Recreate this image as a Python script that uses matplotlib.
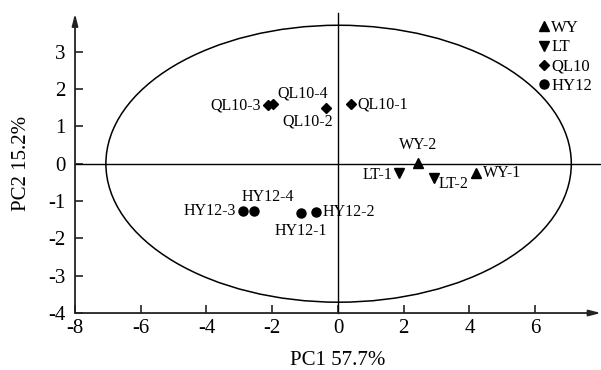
import matplotlib.pyplot as plt
from matplotlib.patches import Ellipse

plt.rcParams['font.family'] = ['Liberation Serif', 'DejaVu Serif']
plt.rcParams['axes.unicode_minus'] = False

# ---- data ----
groups = ['WY', 'LT', 'QL10', 'HY12']
markers = ['^', 'v', 'D', 'o']
sizes = [7, 7, 5.5, 6.5]

wy_names = ['WY-1', 'WY-2']
wy_pc1 = [4.19, 2.44]
wy_pc2 = [-0.24, 0.02]

lt_names = ['LT-1', 'LT-2']
lt_pc1 = [1.86, 2.93]
lt_pc2 = [-0.24, -0.37]

ql_names = ['QL10-1', 'QL10-2', 'QL10-3', 'QL10-4']
ql_pc1 = [0.39, -0.37, -2.14, -1.99]
ql_pc2 = [1.59, 1.50, 1.57, 1.59]

hy_names = ['HY12-1', 'HY12-2', 'HY12-3', 'HY12-4']
hy_pc1 = [-1.12, -0.67, -2.88, -2.55]
hy_pc2 = [-1.33, -1.30, -1.26, -1.26]

xticks = [-8, -6, -4, -2, 0, 2, 4, 6]
yticks = [-4, -3, -2, -1, 0, 1, 2, 3]

# label offsets in points (dx, dy, ha, va)
offsets = {
    'WY-1': (5, 0, 'left', 'center'),
    'WY-2': (0, 7, 'center', 'bottom'),
    'LT-1': (-5, -2, 'right', 'center'),
    'LT-2': (3, -5, 'left', 'center'),
    'QL10-1': (5, 0, 'left', 'center'),
    'QL10-2': (-13, -10, 'center', 'center'),
    'QL10-3': (-5, 0, 'right', 'center'),
    'QL10-4': (22, 8, 'center', 'center'),
    'HY12-1': (0, -13, 'center', 'center'),
    'HY12-2': (5, 0, 'left', 'center'),
    'HY12-3': (-5, 0, 'right', 'center'),
    'HY12-4': (10, 10, 'center', 'center'),
}

fig = plt.figure(figsize=(6.01, 3.70), dpi=100)
ax = fig.add_axes([0.1248, 0.154, 0.875, 0.807])
ax.set_xlim(-8, 8)
ax.set_ylim(-4, 4)

for s in ax.spines.values():
    s.set_visible(False)

# axes with arrows
arrow = dict(arrowstyle='-|>,head_length=0.7,head_width=0.18', color='#222222', lw=1.3, shrinkA=0, shrinkB=0)
ax.annotate('', xy=(8.0, -4), xytext=(-8, -4), arrowprops=arrow, annotation_clip=False)
ax.annotate('', xy=(-8, 4.02), xytext=(-8, -4), arrowprops=arrow, annotation_clip=False)

# zero lines
ax.plot([-8, 8.1], [0, 0], color='black', lw=1.0, clip_on=False)
ax.plot([0, 0], [-4, 4.05], color='black', lw=1.0, clip_on=False)

# confidence ellipse
ax.add_patch(Ellipse((0.02, 0.0), 2 * 7.08, 2 * 3.71, fill=False, ec='black', lw=1.1))

ax.set_xticks(xticks)
ax.set_yticks(yticks)
ax.tick_params(direction='in', length=6, width=1.2, color='#222222', labelsize=15)
ax.tick_params(axis='y', pad=7)
ax.tick_params(axis='x', pad=4)

sets = [
    (wy_names, wy_pc1, wy_pc2),
    (lt_names, lt_pc1, lt_pc2),
    (ql_names, ql_pc1, ql_pc2),
    (hy_names, hy_pc1, hy_pc2),
]
for g, m, ms, (names, xs, ys) in zip(groups, markers, sizes, sets):
    ax.plot(xs, ys, linestyle='none', marker=m, ms=ms, color='black', label=g)
    for n, x, y in zip(names, xs, ys):
        dx, dy, ha, va = offsets[n]
        ax.annotate(n, (x, y), xytext=(dx, dy), textcoords='offset points',
                    ha=ha, va=va, fontsize=11.5)

leg = ax.legend(loc='upper right', bbox_to_anchor=(1.005, 1.02), frameon=False,
                fontsize=12, handlelength=0.7, handletextpad=0.1,
                labelspacing=0.2, borderpad=0.2)

ax.set_xlabel('PC1 57.7%', fontsize=15, labelpad=10)
ax.set_ylabel('PC2 15.2%', fontsize=15, labelpad=12)

fig.savefig('out.png', dpi=100)
